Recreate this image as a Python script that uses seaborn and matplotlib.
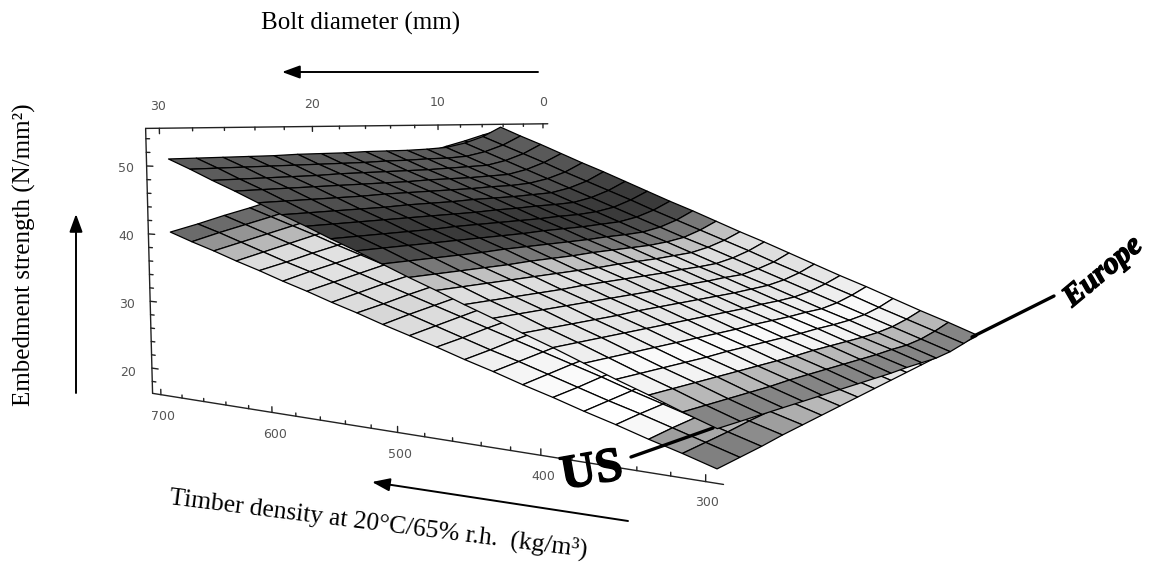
import numpy as np
import matplotlib
matplotlib.use('Agg')
import matplotlib.pyplot as plt
import matplotlib.patheffects as pe
import seaborn as sns
from matplotlib.patches import FancyArrowPatch

sns.set_theme(style='white')

bolt = [30, 28.33, 26.67, 25, 23.33, 21.67, 20, 18.33, 16.67, 15, 13.33, 11.67, 10, 8.33, 6.67, 5]
density = [700, 680, 660, 640, 620, 600, 580, 560, 540, 520, 500, 480, 460, 440, 420, 400, 380, 360, 340, 320, 300]

europe = [
    [40.2, 41.1, 42.1, 43.0, 44.0, 45.0, 45.9, 46.9, 47.8, 48.8, 49.7, 50.7, 51.7, 52.6, 53.6, 54.5],
    [39.0, 40.0, 40.9, 41.8, 42.8, 43.7, 44.6, 45.5, 46.5, 47.4, 48.3, 49.3, 50.2, 51.1, 52.0, 53.0],
    [37.9, 38.8, 39.7, 40.6, 41.5, 42.4, 43.3, 44.2, 45.1, 46.0, 46.9, 47.8, 48.7, 49.6, 50.5, 51.4],
    [36.7, 37.6, 38.5, 39.4, 40.2, 41.1, 42.0, 42.9, 43.7, 44.6, 45.5, 46.4, 47.2, 48.1, 49.0, 49.9],
    [35.6, 36.4, 37.3, 38.1, 39.0, 39.8, 40.7, 41.5, 42.4, 43.2, 44.1, 44.9, 45.8, 46.6, 47.4, 48.3],
    [34.4, 35.3, 36.1, 36.9, 37.7, 38.5, 39.4, 40.2, 41.0, 41.8, 42.6, 43.5, 44.3, 45.1, 45.9, 46.7],
    [33.3, 34.1, 34.9, 35.7, 36.5, 37.3, 38.0, 38.8, 39.6, 40.4, 41.2, 42.0, 42.8, 43.6, 44.4, 45.2],
    [32.1, 32.9, 33.7, 34.4, 35.2, 36.0, 36.7, 37.5, 38.3, 39.0, 39.8, 40.6, 41.3, 42.1, 42.9, 43.6],
    [31.0, 31.7, 32.5, 33.2, 33.9, 34.7, 35.4, 36.2, 36.9, 37.6, 38.4, 39.1, 39.9, 40.6, 41.3, 42.1],
    [29.8, 30.6, 31.3, 32.0, 32.7, 33.4, 34.1, 34.8, 35.5, 36.2, 37.0, 37.7, 38.4, 39.1, 39.8, 40.5],
    [28.7, 29.4, 30.1, 30.8, 31.4, 32.1, 32.8, 33.5, 34.2, 34.9, 35.5, 36.2, 36.9, 37.6, 38.3, 39.0],
    [27.6, 28.2, 28.9, 29.5, 30.2, 30.8, 31.5, 32.1, 32.8, 33.5, 34.1, 34.8, 35.4, 36.1, 36.7, 37.4],
    [26.4, 27.0, 27.7, 28.3, 28.9, 29.5, 30.2, 30.8, 31.4, 32.1, 32.7, 33.3, 33.9, 34.6, 35.2, 35.8],
    [25.3, 25.9, 26.5, 27.1, 27.7, 28.3, 28.9, 29.5, 30.1, 30.7, 31.3, 31.9, 32.5, 33.1, 33.7, 34.3],
    [24.1, 24.7, 25.3, 25.8, 26.4, 27.0, 27.6, 28.1, 28.7, 29.3, 29.8, 30.4, 31.0, 31.6, 32.1, 32.7],
    [23.0, 23.5, 24.1, 24.6, 25.1, 25.7, 26.2, 26.8, 27.3, 27.9, 28.4, 29.0, 29.5, 30.1, 30.6, 31.2],
    [21.8, 22.3, 22.8, 23.4, 23.9, 24.4, 24.9, 25.4, 26.0, 26.5, 27.0, 27.5, 28.0, 28.6, 29.1, 29.6],
    [20.7, 21.2, 21.6, 22.1, 22.6, 23.1, 23.6, 24.1, 24.6, 25.1, 25.6, 26.1, 26.6, 27.1, 27.6, 28.0],
    [19.5, 20.0, 20.4, 20.9, 21.4, 21.8, 22.3, 22.8, 23.2, 23.7, 24.2, 24.6, 25.1, 25.6, 26.0, 26.5],
    [18.4, 18.8, 19.2, 19.7, 20.1, 20.6, 21.0, 21.4, 21.9, 22.3, 22.7, 23.2, 23.6, 24.1, 24.5, 24.9],
    [17.2, 17.6, 18.0, 18.5, 18.9, 19.3, 19.7, 20.1, 20.5, 20.9, 21.3, 21.7, 22.1, 22.6, 23.0, 23.4],
]

us = [
    [51.0, 51.0, 51.0, 51.0, 51.0, 51.1, 51.1, 51.1, 51.2, 51.2, 51.2, 51.3, 51.5, 52.2, 53.3, 55.0],
    [49.6, 49.6, 49.6, 49.6, 49.6, 49.6, 49.6, 49.6, 49.7, 49.7, 49.8, 49.8, 50.0, 50.7, 51.8, 53.4],
    [48.1, 48.1, 48.1, 48.1, 48.1, 48.2, 48.2, 48.2, 48.2, 48.2, 48.3, 48.4, 48.5, 49.2, 50.3, 51.9],
    [46.7, 46.7, 46.7, 46.7, 46.7, 46.7, 46.7, 46.7, 46.8, 46.8, 46.8, 46.9, 47.0, 47.7, 48.8, 50.3],
    [45.2, 45.2, 45.2, 45.2, 45.2, 45.3, 45.3, 45.3, 45.3, 45.3, 45.4, 45.4, 45.6, 46.2, 47.2, 48.7],
    [43.7, 43.7, 43.7, 43.7, 43.7, 43.8, 43.8, 43.8, 43.9, 43.9, 43.9, 44.0, 44.1, 44.7, 45.7, 47.2],
    [42.3, 42.3, 42.3, 42.3, 42.3, 42.3, 42.3, 42.3, 42.4, 42.4, 42.5, 42.5, 42.6, 43.2, 44.2, 45.6],
    [40.8, 40.8, 40.8, 40.8, 40.8, 40.9, 40.9, 40.9, 40.9, 40.9, 41.0, 41.0, 41.2, 41.7, 42.7, 44.0],
    [39.4, 39.4, 39.4, 39.4, 39.4, 39.4, 39.4, 39.4, 39.5, 39.5, 39.5, 39.6, 39.7, 40.2, 41.1, 42.4],
    [37.9, 37.9, 37.9, 37.9, 37.9, 38.0, 38.0, 38.0, 38.0, 38.0, 38.1, 38.1, 38.2, 38.7, 39.6, 40.9],
    [36.4, 36.4, 36.4, 36.4, 36.4, 36.5, 36.5, 36.5, 36.6, 36.6, 36.6, 36.6, 36.8, 37.2, 38.1, 39.3],
    [35.0, 35.0, 35.0, 35.0, 35.0, 35.0, 35.0, 35.0, 35.1, 35.1, 35.1, 35.2, 35.3, 35.8, 36.6, 37.7],
    [33.5, 33.5, 33.5, 33.5, 33.5, 33.6, 33.6, 33.6, 33.6, 33.6, 33.7, 33.7, 33.8, 34.3, 35.1, 36.2],
    [32.1, 32.1, 32.1, 32.1, 32.1, 32.1, 32.1, 32.1, 32.2, 32.2, 32.2, 32.3, 32.3, 32.8, 33.5, 34.6],
    [30.6, 30.6, 30.6, 30.6, 30.6, 30.7, 30.7, 30.7, 30.7, 30.7, 30.7, 30.8, 30.9, 31.3, 32.0, 33.0],
    [29.2, 29.2, 29.2, 29.2, 29.2, 29.2, 29.2, 29.2, 29.2, 29.2, 29.3, 29.3, 29.4, 29.8, 30.5, 31.4],
    [27.7, 27.7, 27.7, 27.7, 27.7, 27.7, 27.7, 27.7, 27.8, 27.8, 27.8, 27.9, 27.9, 28.3, 29.0, 29.9],
    [26.2, 26.2, 26.2, 26.2, 26.2, 26.3, 26.3, 26.3, 26.3, 26.3, 26.4, 26.4, 26.5, 26.8, 27.4, 28.3],
    [24.8, 24.8, 24.8, 24.8, 24.8, 24.8, 24.8, 24.8, 24.9, 24.9, 24.9, 24.9, 25.0, 25.3, 25.9, 26.7],
    [23.3, 23.3, 23.3, 23.3, 23.3, 23.4, 23.4, 23.4, 23.4, 23.4, 23.4, 23.5, 23.5, 23.8, 24.4, 25.2],
    [21.9, 21.9, 21.9, 21.9, 21.9, 21.9, 21.9, 21.9, 21.9, 21.9, 22.0, 22.0, 22.0, 22.3, 22.9, 23.6],
]

# grey of each density row, first row is 700
us_gray = [.36, .36, .35, .33, .31, .26, .23, .23, .30, .47, .75, .87, .87, .89, .90, .93, .98, .95, .72, .52]
eu_gray = [.42, .58, .72, .86, .88, .88, .86, .86, .84, .86, .88, .90, .94, .96, .98, 1, 1, .97, .90, .80]
# last rows of the europe sheet get lighter towards small bolts
eu_near_row_18 = [.62, .66, .70, .72, .75, .78, .80, .85, .90, .95, 1, 1, 1, 1, 1, 1]
eu_near_row_19 = [.50, .50, .55, .62, .68, .72, .76, .80, .85, .90, .95, .97, .97, .97, .97, .97]

d_ticks = list(range(0, 31, 2))
z_ticks = list(range(18, 55, 2))
r_ticks = list(range(300, 701, 20))

d_labels = ['30', '20', '10', '0']
z_labels = ['50', '40', '30', '20']
r_labels = ['700', '600', '500', '400', '300']

fig = plt.figure(figsize=(11.51, 5.71), dpi=100)
ax = fig.add_axes([148.49 / 1151, -147.55 / 571, 902.27 / 1151, 902.27 / 571], projection='3d', computed_zorder=False)
ax.set_xlim(30.8, -0.5, view_margin=0)
ax.set_ylim(290, 708, view_margin=0)
ax.set_zlim(16.2, 55.5, view_margin=0)
ax.view_init(elev=5.318, azim=-145.06, roll=-0.069)
ax.set_proj_type('persp', focal_length=0.3222)
ax.set_box_aspect((2.4732, 2.5131, 1))
ax.set_axis_off()

D, R = np.meshgrid(bolt, density)
cmap = sns.color_palette('gray', as_cmap=True)
eu_shade = np.tile(np.array(eu_gray + [1])[:, None], (1, 16))
eu_shade[18] = eu_near_row_18
eu_shade[19] = eu_near_row_19
us_shade = np.tile(np.array(us_gray + [1])[:, None], (1, 16))

ax.plot_surface(D, R, np.array(europe), rstride=1, cstride=1, facecolors=cmap(eu_shade), edgecolor='black', linewidth=0.9, shade=False, zorder=2)
ax.plot_surface(D, R, np.array(us), rstride=1, cstride=1, facecolors=cmap(us_shade), edgecolor='black', linewidth=0.9, shade=False, zorder=3)

# box edges and tick marks
axc = '#222222'
ax.plot([30.8, -0.5], [708, 708], [55.5, 55.5], color=axc, lw=1, clip_on=False)
ax.plot([30.8, 30.8], [708, 708], [55.5, 16.2], color=axc, lw=1, clip_on=False)
ax.plot([30.8, 30.8], [708, 290], [16.2, 16.2], color=axc, lw=1, clip_on=False)
for d in d_ticks:
    l = .8 if d % 10 == 0 else .45
    ax.plot([d, d], [708, 708], [55.5, 55.5 - l], color=axc, lw=1, clip_on=False)
for z in z_ticks:
    l = 6 if z % 10 == 0 else 3.5
    ax.plot([30.8, 30.8], [708, 708 - l], [z, z], color=axc, lw=1, clip_on=False)
for r in r_ticks:
    l = .8 if r % 100 == 0 else .45
    ax.plot([30.8, 30.8], [r, r], [16.2, 16.2 + l], color=axc, lw=1, clip_on=False)

# everything else sits on a flat layer in picture pixels
over = fig.add_axes([0, 0, 1, 1])
over.set_xlim(0, 1151)
over.set_ylim(571, 0)
over.set_axis_off()
over.patch.set_alpha(0)

tick_c = '#555555'
for s, x, y in zip(d_labels, [158, 312, 438, 543], [107, 105, 103, 103]):
    over.text(x, y, s, color=tick_c, fontsize=9, ha='center', va='center')
for s, x, y in zip(z_labels, [126, 126, 127, 128], [168, 237, 305, 372]):
    over.text(x, y, s, color=tick_c, fontsize=9, ha='center', va='center')
for s, x, y in zip(r_labels, [163, 275, 400, 543, 707], [417, 435, 454, 477, 502]):
    over.text(x, y, s, color=tick_c, fontsize=9, ha='center', va='center')

serif = 'Liberation Serif'
over.text(361, 23, 'Bolt diameter (mm)', family=serif, fontsize=18, color='black', ha='center', va='center')
over.text(24, 255, 'Embedment strength (N/mm²)', family=serif, fontsize=18, color='black', rotation=90, ha='center', va='center')
over.text(378, 524, 'Timber density at 20°C/65% r.h.  (kg/m³)', family=serif, fontsize=18.4, color='black', rotation=-7.2, rotation_mode='anchor', ha='center', va='center')
bold = [pe.withStroke(linewidth=1, foreground='black')]
over.text(592, 472, 'US', family=serif, weight='bold', fontsize=35, color='black', rotation=10, ha='center', va='center', path_effects=bold)
over.text(1103, 272, 'Europe', family=serif, weight='bold', style='italic', fontsize=22, color='black', rotation=40, ha='center', va='center', path_effects=bold)

for a, b in [((538, 72), (282, 72)), ((76, 393), (76, 214)), ((628, 521), (372, 482))]:
    over.add_patch(FancyArrowPatch(a, b, arrowstyle='-|>,head_length=0.6,head_width=0.22', mutation_scale=18, color='black', lw=1.4, shrinkA=0, shrinkB=0))
over.plot([631, 713], [457, 428], color='black', lw=2.4)
over.plot([972, 1054], [337, 296], color='black', lw=2.4)

fig.savefig('out.png', dpi=100)
